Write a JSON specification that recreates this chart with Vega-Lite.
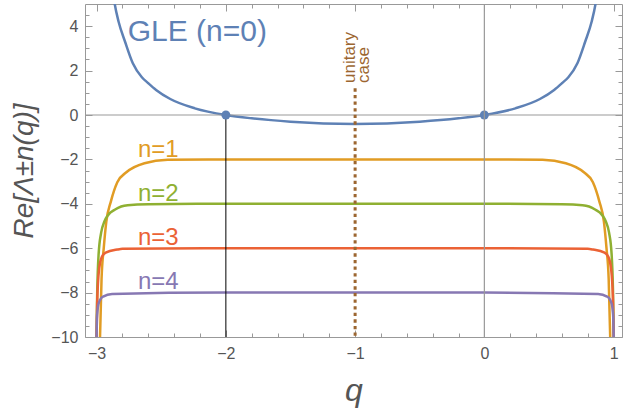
{
  "$schema": "https://vega.github.io/schema/vega-lite/v6.json",
  "width": 537,
  "height": 333,
  "autosize": {"type": "none"},
  "padding": {"left": 85, "top": 4, "right": 1, "bottom": 81},
  "config": {
    "view": {"stroke": null},
    "font": "Liberation Sans",
    "axis": {"labelFont": "Liberation Sans", "titleFont": "Liberation Sans", "grid": false},
    "text": {"font": "Liberation Sans"}
  },
  "datasets": {
    "curves": [
      {"s": "n0", "q": -2.88, "y": 5.8},
      {"s": "n0", "q": -2.86, "y": 5.0},
      {"s": "n0", "q": -2.83, "y": 4.2},
      {"s": "n0", "q": -2.78, "y": 3.3},
      {"s": "n0", "q": -2.72, "y": 2.33},
      {"s": "n0", "q": -2.65, "y": 1.7},
      {"s": "n0", "q": -2.6, "y": 1.43},
      {"s": "n0", "q": -2.54, "y": 1.13},
      {"s": "n0", "q": -2.43, "y": 0.72},
      {"s": "n0", "q": -2.24, "y": 0.3},
      {"s": "n0", "q": -2.0, "y": 0},
      {"s": "n0", "q": -1.8, "y": -0.15},
      {"s": "n0", "q": -1.5, "y": -0.3},
      {"s": "n0", "q": -1.0, "y": -0.4},
      {"s": "n0", "q": -0.5, "y": -0.3},
      {"s": "n0", "q": -0.2, "y": -0.15},
      {"s": "n0", "q": 0.0, "y": 0},
      {"s": "n0", "q": 0.24, "y": 0.3},
      {"s": "n0", "q": 0.43, "y": 0.72},
      {"s": "n0", "q": 0.54, "y": 1.13},
      {"s": "n0", "q": 0.6, "y": 1.43},
      {"s": "n0", "q": 0.65, "y": 1.7},
      {"s": "n0", "q": 0.72, "y": 2.33},
      {"s": "n0", "q": 0.78, "y": 3.3},
      {"s": "n0", "q": 0.83, "y": 4.2},
      {"s": "n0", "q": 0.86, "y": 5.0},
      {"s": "n0", "q": 0.88, "y": 5.8},

      {"s": "n1", "q": -2.975, "y": -10.3},
      {"s": "n1", "q": -2.962, "y": -7.4},
      {"s": "n1", "q": -2.945, "y": -6.0},
      {"s": "n1", "q": -2.925, "y": -4.8},
      {"s": "n1", "q": -2.89, "y": -3.9},
      {"s": "n1", "q": -2.84, "y": -3.03},
      {"s": "n1", "q": -2.77, "y": -2.58},
      {"s": "n1", "q": -2.63, "y": -2.17},
      {"s": "n1", "q": -2.45, "y": -2.02},
      {"s": "n1", "q": -2.0, "y": -2.0},
      {"s": "n1", "q": -1.0, "y": -2.0},
      {"s": "n1", "q": 0.0, "y": -2.0},
      {"s": "n1", "q": 0.45, "y": -2.02},
      {"s": "n1", "q": 0.63, "y": -2.17},
      {"s": "n1", "q": 0.77, "y": -2.58},
      {"s": "n1", "q": 0.84, "y": -3.03},
      {"s": "n1", "q": 0.89, "y": -3.9},
      {"s": "n1", "q": 0.925, "y": -4.8},
      {"s": "n1", "q": 0.945, "y": -6.0},
      {"s": "n1", "q": 0.962, "y": -7.4},
      {"s": "n1", "q": 0.975, "y": -10.3},

      {"s": "n2", "q": -3.003, "y": -10.5},
      {"s": "n2", "q": -2.995, "y": -7.8},
      {"s": "n2", "q": -2.985, "y": -6.3},
      {"s": "n2", "q": -2.965, "y": -5.3},
      {"s": "n2", "q": -2.94, "y": -4.8},
      {"s": "n2", "q": -2.91, "y": -4.5},
      {"s": "n2", "q": -2.86, "y": -4.27},
      {"s": "n2", "q": -2.81, "y": -4.12},
      {"s": "n2", "q": -2.76, "y": -4.06},
      {"s": "n2", "q": -2.6, "y": -4.02},
      {"s": "n2", "q": -2.0, "y": -4.0},
      {"s": "n2", "q": -1.0, "y": -4.0},
      {"s": "n2", "q": 0.0, "y": -4.0},
      {"s": "n2", "q": 0.6, "y": -4.02},
      {"s": "n2", "q": 0.76, "y": -4.06},
      {"s": "n2", "q": 0.81, "y": -4.12},
      {"s": "n2", "q": 0.86, "y": -4.27},
      {"s": "n2", "q": 0.91, "y": -4.5},
      {"s": "n2", "q": 0.94, "y": -4.8},
      {"s": "n2", "q": 0.965, "y": -5.3},
      {"s": "n2", "q": 0.985, "y": -6.3},
      {"s": "n2", "q": 0.995, "y": -7.8},
      {"s": "n2", "q": 1.003, "y": -10.5},

      {"s": "n3", "q": -3.002, "y": -10.5},
      {"s": "n3", "q": -2.996, "y": -8.5},
      {"s": "n3", "q": -2.99, "y": -7.6},
      {"s": "n3", "q": -2.98, "y": -6.9},
      {"s": "n3", "q": -2.96, "y": -6.4},
      {"s": "n3", "q": -2.93, "y": -6.2},
      {"s": "n3", "q": -2.84, "y": -6.06},
      {"s": "n3", "q": -2.8, "y": -6.03},
      {"s": "n3", "q": -2.0, "y": -6.0},
      {"s": "n3", "q": 0.0, "y": -6.0},
      {"s": "n3", "q": 0.8, "y": -6.03},
      {"s": "n3", "q": 0.84, "y": -6.06},
      {"s": "n3", "q": 0.93, "y": -6.2},
      {"s": "n3", "q": 0.96, "y": -6.4},
      {"s": "n3", "q": 0.98, "y": -6.9},
      {"s": "n3", "q": 0.99, "y": -7.6},
      {"s": "n3", "q": 0.996, "y": -8.5},
      {"s": "n3", "q": 1.002, "y": -10.5},

      {"s": "n4", "q": -3.002, "y": -10.5},
      {"s": "n4", "q": -2.998, "y": -9.2},
      {"s": "n4", "q": -2.993, "y": -8.8},
      {"s": "n4", "q": -2.985, "y": -8.5},
      {"s": "n4", "q": -2.965, "y": -8.25},
      {"s": "n4", "q": -2.95, "y": -8.18},
      {"s": "n4", "q": -2.88, "y": -8.06},
      {"s": "n4", "q": -2.0, "y": -8.0},
      {"s": "n4", "q": 0.0, "y": -8.0},
      {"s": "n4", "q": 0.88, "y": -8.06},
      {"s": "n4", "q": 0.95, "y": -8.18},
      {"s": "n4", "q": 0.965, "y": -8.25},
      {"s": "n4", "q": 0.985, "y": -8.5},
      {"s": "n4", "q": 0.993, "y": -8.8},
      {"s": "n4", "q": 0.998, "y": -9.2},
      {"s": "n4", "q": 1.002, "y": -10.5}
    ],
    "points": [{"q": -2, "y": 0}, {"q": 0, "y": 0}]
  },
  "layer": [
    {
      "layer": [
        {
          "data": {"name": "curves"},
          "mark": {"type": "line", "interpolate": "monotone", "strokeWidth": 2.5, "clip": true},
          "encoding": {
            "x": {
              "field": "q", "type": "quantitative",
              "scale": {"domain": [-3.09, 1.065], "nice": false, "zero": false},
              "axis": {
                "orient": "bottom",
                "values": [-3, -2, -1, 0, 1],
                "format": "d",
                "labelFlush": false,
                "tickSize": -7, "tickColor": "#999999", "tickWidth": 1,
                "domainColor": "#999999", "domainWidth": 1,
                "labelPadding": 15.5, "labelFontSize": 16, "labelColor": "#555555",
                "title": "q", "titleFontSize": 32, "titleFontStyle": "italic", "titleFontWeight": "normal",
                "titleColor": "#555555", "titleY": 63, "titleBaseline": "alphabetic"
              }
            },
            "y": {
              "field": "y", "type": "quantitative",
              "scale": {"domain": [-10, 5], "nice": false, "zero": false},
              "axis": {
                "orient": "left",
                "values": [-10, -8, -6, -4, -2, 0, 2, 4],
                "format": "d",
                "labelFlush": false,
                "tickSize": -7, "tickColor": "#999999", "tickWidth": 1,
                "domainColor": "#999999", "domainWidth": 1,
                "labelPadding": 14, "labelFontSize": 16, "labelColor": "#555555",
                "title": "Re[Λ±n(q)]", "titleFontSize": 28, "titleFontStyle": "italic", "titleFontWeight": "normal",
                "titleColor": "#555555", "titleAngle": 270, "titleX": -53, "titleY": 166.5,
                "titleAlign": "center", "titleBaseline": "alphabetic"
              }
            },
            "color": {
              "field": "s", "type": "nominal",
              "scale": {"domain": ["n0", "n1", "n2", "n3", "n4"], "range": ["#5E81B5", "#E19C24", "#8FB032", "#EB6235", "#8778B3"]},
              "legend": null
            }
          }
        },
        {
          "data": {"values": [{}]},
          "mark": {"type": "rule", "color": "#999999", "strokeWidth": 1.2},
          "encoding": {
            "y": {"datum": 0, "type": "quantitative", "scale": {"domain": [-10, 5], "nice": false, "zero": false}}
          }
        },
        {
          "data": {"values": [{}]},
          "mark": {"type": "rule", "color": "#000000", "strokeWidth": 1},
          "encoding": {
            "x": {"datum": -2, "type": "quantitative", "scale": {"domain": [-3.09, 1.065], "nice": false, "zero": false}},
            "y": {"datum": 0, "type": "quantitative", "scale": {"domain": [-10, 5], "nice": false, "zero": false}},
            "y2": {"datum": -10}
          }
        },
        {
          "data": {"values": [{}]},
          "mark": {"type": "rule", "color": "#9C6630", "strokeWidth": 3, "strokeDash": [3.3, 3.3]},
          "encoding": {
            "x": {"datum": -1, "type": "quantitative", "scale": {"domain": [-3.09, 1.065], "nice": false, "zero": false}},
            "y": {"datum": 1.2, "type": "quantitative", "scale": {"domain": [-10, 5], "nice": false, "zero": false}},
            "y2": {"datum": -10}
          }
        },
        {
          "data": {"name": "points"},
          "mark": {"type": "point", "filled": true, "size": 80, "opacity": 1, "color": "#5E81B5"},
          "encoding": {
            "x": {"field": "q", "type": "quantitative", "scale": {"domain": [-3.09, 1.065], "nice": false, "zero": false}},
            "y": {"field": "y", "type": "quantitative", "scale": {"domain": [-10, 5], "nice": false, "zero": false}}
          }
        },
        {
          "data": {"values": [{}]},
          "mark": {"type": "text", "angle": 270, "align": "left", "baseline": "alphabetic", "fontSize": 17, "lineHeight": 14, "color": "#9C6630"},
          "encoding": {
            "x": {"datum": -1, "type": "quantitative", "scale": {"domain": [-3.09, 1.065], "nice": false, "zero": false}},
            "y": {"datum": 1.44, "type": "quantitative", "scale": {"domain": [-10, 5], "nice": false, "zero": false}},
            "text": {"value": ["unitary", "case"]}
          }
        },
        {
          "data": {"values": [{}]},
          "mark": {"type": "text", "align": "left", "baseline": "alphabetic", "fontSize": 30, "color": "#5E81B5"},
          "encoding": {
            "x": {"datum": -2.76, "type": "quantitative", "scale": {"domain": [-3.09, 1.065], "nice": false, "zero": false}},
            "y": {"datum": 3.33, "type": "quantitative", "scale": {"domain": [-10, 5], "nice": false, "zero": false}},
            "text": {"value": "GLE (n=0)"}
          }
        },
        {
          "data": {"values": [{}]},
          "mark": {"type": "text", "align": "left", "baseline": "alphabetic", "fontSize": 24, "color": "#E19C24"},
          "encoding": {
            "x": {"datum": -2.68, "type": "quantitative", "scale": {"domain": [-3.09, 1.065], "nice": false, "zero": false}},
            "y": {"datum": -1.89, "type": "quantitative", "scale": {"domain": [-10, 5], "nice": false, "zero": false}},
            "text": {"value": "n=1"}
          }
        },
        {
          "data": {"values": [{}]},
          "mark": {"type": "text", "align": "left", "baseline": "alphabetic", "fontSize": 24, "color": "#8FB032"},
          "encoding": {
            "x": {"datum": -2.68, "type": "quantitative", "scale": {"domain": [-3.09, 1.065], "nice": false, "zero": false}},
            "y": {"datum": -3.86, "type": "quantitative", "scale": {"domain": [-10, 5], "nice": false, "zero": false}},
            "text": {"value": "n=2"}
          }
        },
        {
          "data": {"values": [{}]},
          "mark": {"type": "text", "align": "left", "baseline": "alphabetic", "fontSize": 24, "color": "#EB6235"},
          "encoding": {
            "x": {"datum": -2.68, "type": "quantitative", "scale": {"domain": [-3.09, 1.065], "nice": false, "zero": false}},
            "y": {"datum": -5.86, "type": "quantitative", "scale": {"domain": [-10, 5], "nice": false, "zero": false}},
            "text": {"value": "n=3"}
          }
        },
        {
          "data": {"values": [{}]},
          "mark": {"type": "text", "align": "left", "baseline": "alphabetic", "fontSize": 24, "color": "#8778B3"},
          "encoding": {
            "x": {"datum": -2.68, "type": "quantitative", "scale": {"domain": [-3.09, 1.065], "nice": false, "zero": false}},
            "y": {"datum": -7.85, "type": "quantitative", "scale": {"domain": [-10, 5], "nice": false, "zero": false}},
            "text": {"value": "n=4"}
          }
        }
      ]
    },
    {
      "data": {"values": [{}]},
      "mark": {"type": "rule", "color": "#999999", "strokeWidth": 1.2},
      "encoding": {
        "x": {
          "datum": 0, "type": "quantitative",
          "scale": {"domain": [-3.09, 1.065], "nice": false, "zero": false},
          "axis": {"orient": "top", "values": [-3, -2, -1, 0, 1], "labels": false, "tickSize": -7, "tickColor": "#999999", "tickWidth": 1, "domainColor": "#999999", "domainWidth": 1, "title": null}
        },
        "y": {
          "datum": -10, "type": "quantitative",
          "scale": {"domain": [-10, 5], "nice": false, "zero": false},
          "axis": {"orient": "right", "values": [-10, -8, -6, -4, -2, 0, 2, 4], "labels": false, "tickSize": -7, "tickColor": "#999999", "tickWidth": 1, "domainColor": "#999999", "domainWidth": 1, "title": null}
        },
        "y2": {"datum": 5}
      }
    },
    {
      "data": {"values": [{}]},
      "mark": {"type": "rule", "opacity": 0},
      "encoding": {
        "x": {
          "datum": 0, "type": "quantitative",
          "scale": {"domain": [-3.09, 1.065], "nice": false, "zero": false},
          "axis": {"orient": "bottom", "values": [-2.8, -2.6, -2.4, -2.2, -1.8, -1.6, -1.4, -1.2, -0.8, -0.6, -0.4, -0.2, 0.2, 0.4, 0.6, 0.8], "labels": false, "domain": false, "tickSize": -4, "tickColor": "#999999", "tickWidth": 1, "title": null}
        },
        "y": {
          "datum": -10, "type": "quantitative",
          "scale": {"domain": [-10, 5], "nice": false, "zero": false},
          "axis": {"orient": "left", "values": [-9.5, -9, -8.5, -7.5, -7, -6.5, -5.5, -5, -4.5, -3.5, -3, -2.5, -1.5, -1, -0.5, 0.5, 1, 1.5, 2.5, 3, 3.5, 4.5], "labels": false, "domain": false, "tickSize": -4, "tickColor": "#999999", "tickWidth": 1, "title": null}
        },
        "y2": {"datum": 5}
      }
    },
    {
      "data": {"values": [{}]},
      "mark": {"type": "rule", "opacity": 0},
      "encoding": {
        "x": {
          "datum": 0, "type": "quantitative",
          "scale": {"domain": [-3.09, 1.065], "nice": false, "zero": false},
          "axis": {"orient": "top", "values": [-2.8, -2.6, -2.4, -2.2, -1.8, -1.6, -1.4, -1.2, -0.8, -0.6, -0.4, -0.2, 0.2, 0.4, 0.6, 0.8], "labels": false, "domain": false, "tickSize": -4, "tickColor": "#999999", "tickWidth": 1, "title": null}
        },
        "y": {
          "datum": -10, "type": "quantitative",
          "scale": {"domain": [-10, 5], "nice": false, "zero": false},
          "axis": {"orient": "right", "values": [-9.5, -9, -8.5, -7.5, -7, -6.5, -5.5, -5, -4.5, -3.5, -3, -2.5, -1.5, -1, -0.5, 0.5, 1, 1.5, 2.5, 3, 3.5, 4.5], "labels": false, "domain": false, "tickSize": -4, "tickColor": "#999999", "tickWidth": 1, "title": null}
        },
        "y2": {"datum": 5}
      }
    }
  ],
  "resolve": {"axis": {"x": "independent", "y": "independent"}}
}
